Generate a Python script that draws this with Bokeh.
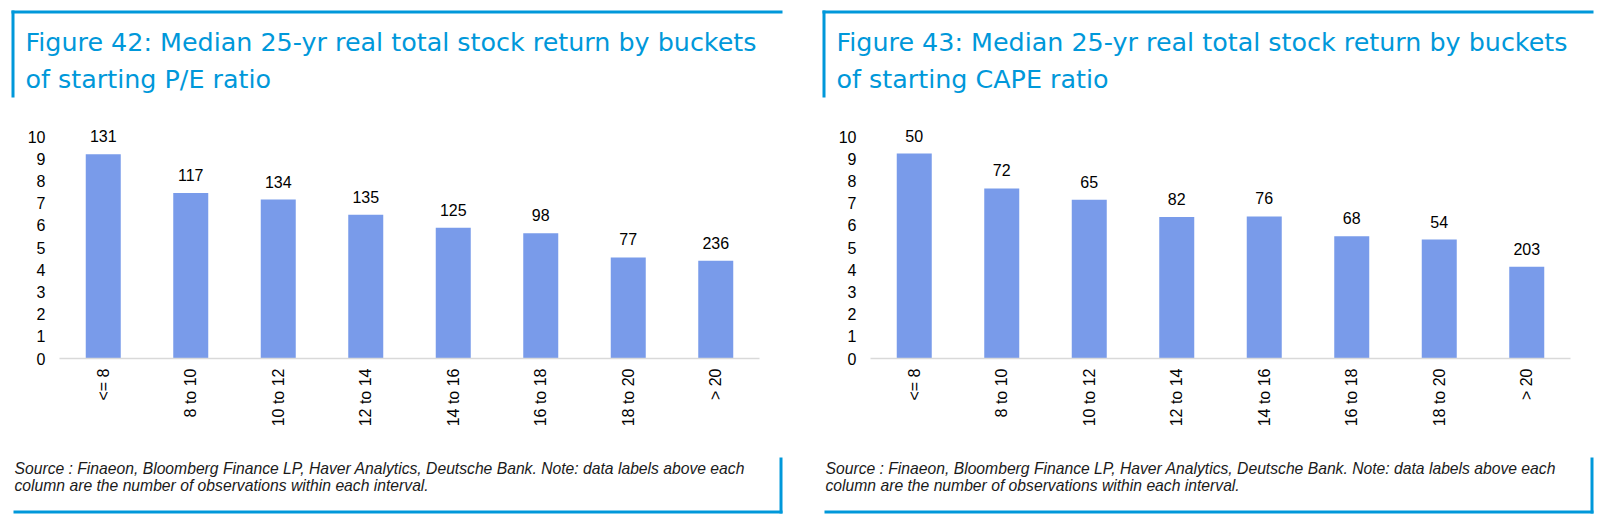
from math import pi

from bokeh.core.properties import value
from bokeh.embed import file_html
from bokeh.layouts import row
from bokeh.models import BoxAnnotation, ColumnDataSource, FixedTicker, Label, Range1d
from bokeh.plotting import figure
from bokeh.resources import INLINE

# Dados
buckets = ["<= 8", "8 to 10", "10 to 12", "12 to 14", "14 to 16", "16 to 18", "18 to 20", "> 20"]
pe_returns = [9.2, 7.46, 7.16, 6.47, 5.89, 5.64, 4.55, 4.40]
pe_obs = [131, 117, 134, 135, 125, 98, 77, 236]
cape_returns = [9.23, 7.66, 7.15, 6.37, 6.40, 5.51, 5.36, 4.13]
cape_obs = [50, 72, 65, 82, 76, 68, 54, 203]
y_ticks = list(range(0, 11))

pe_title = ["Figure 42: Median 25-yr real total stock return by buckets",
            "of starting P/E ratio"]
cape_title = ["Figure 43: Median 25-yr real total stock return by buckets",
              "of starting CAPE ratio"]
source_note = ["Source : Finaeon, Bloomberg Finance LP, Haver Analytics, Deutsche Bank. Note: data labels above each",
               "column are the number of observations within each interval."]

BLUE = "#0098DA"
BAR = "#799BEA"
FONT = "Liberation Sans"
TITLE_FONT = "DejaVu Sans"

# layout em pixels da página (o template do bokeh não tem margem)
FRAME_OFF = 47      # do canto do painel até o início do eixo x
PX_X = 87.5         # pixels por categoria
PX_Y = 22.2         # pixels por unidade no eixo y
ZERO_Y = 358        # posição vertical do zero
FIG_H = 524


def make_panel(title_lines, returns, counts, panel_left, fig_left, width):
    def dx(rel):
        return 0.5 + (rel - FRAME_OFF) / PX_X

    def dy(page_y):
        return (ZERO_Y - page_y) / PX_Y

    pos = list(range(1, len(buckets) + 1))
    source = ColumnDataSource(dict(pos=pos, ret=returns, obs=[str(c) for c in counts]))
    p = figure(x_range=Range1d(dx(fig_left - panel_left), dx(fig_left + width - panel_left)),
               y_range=Range1d(dy(FIG_H), dy(0)),
               width=width, height=FIG_H, min_border=0,
               output_backend="svg", toolbar_location=None)
    p.outline_line_color = None
    p.xgrid.visible = False
    p.ygrid.visible = False

    p.vbar(x="pos", top="ret", width=0.4, fill_color=BAR, line_color=None, source=source)
    p.text(x="pos", y="ret", text="obs", source=source, text_align="center",
           text_baseline="middle", y_offset=-18, text_font=value(FONT),
           text_font_size="16px", text_color="#000000")

    p.yaxis.fixed_location = 0.5
    p.yaxis.bounds = (0, 10)
    p.yaxis.ticker = FixedTicker(ticks=y_ticks)
    p.yaxis.axis_line_color = None
    p.yaxis.major_tick_line_color = None
    p.yaxis.minor_tick_line_color = None
    p.yaxis.major_tick_out = 0
    p.yaxis.major_label_standoff = 14

    p.xaxis.fixed_location = 0
    p.xaxis.bounds = (0.5, len(buckets) + 0.5)
    p.xaxis.ticker = FixedTicker(ticks=pos)
    p.xaxis.major_label_overrides = {i: b for i, b in zip(pos, buckets)}
    p.xaxis.axis_line_color = "#D9D9D9"
    p.xaxis.axis_line_width = 1.5
    p.xaxis.major_tick_line_color = None
    p.xaxis.minor_tick_line_color = None
    p.xaxis.major_tick_out = 0
    p.xaxis.major_label_standoff = 10
    p.xaxis.major_label_orientation = pi / 2
    for ax in (p.xaxis, p.yaxis):
        ax.major_label_text_font = FONT
        ax.major_label_text_font_size = "16px"
        ax.major_label_text_color = "#000000"

    # bordas azuis do painel
    for l, r, t, b in [(-1, 770, 10, 13), (-1, 2, 10, 97), (1, 770, 510, 513), (767, 770, 457, 513)]:
        p.add_layout(BoxAnnotation(left=dx(l), right=dx(r), top=dy(t), bottom=dy(b),
                                   fill_color=BLUE, fill_alpha=1.0, line_color=None))

    for txt, mid in zip(title_lines, [41.5, 78.5]):
        p.add_layout(Label(x=dx(13), y=dy(mid), text=txt, text_font=TITLE_FONT,
                           text_font_size="25.4px", text_color=BLUE, text_baseline="middle"))
    for txt, mid in zip(source_note, [468, 485]):
        p.add_layout(Label(x=dx(2), y=dy(mid), text=txt, text_font=FONT,
                           text_font_size="15.7px", text_font_style="italic",
                           text_color="#1A1A1A", text_baseline="middle"))
    return p


p1 = make_panel(pe_title, pe_returns, pe_obs, 12, 0, 819)
p2 = make_panel(cape_title, cape_returns, cape_obs, 823, 819, 790)
p = row(p1, p2)

open("out.html", "w").write(file_html(p, INLINE))
